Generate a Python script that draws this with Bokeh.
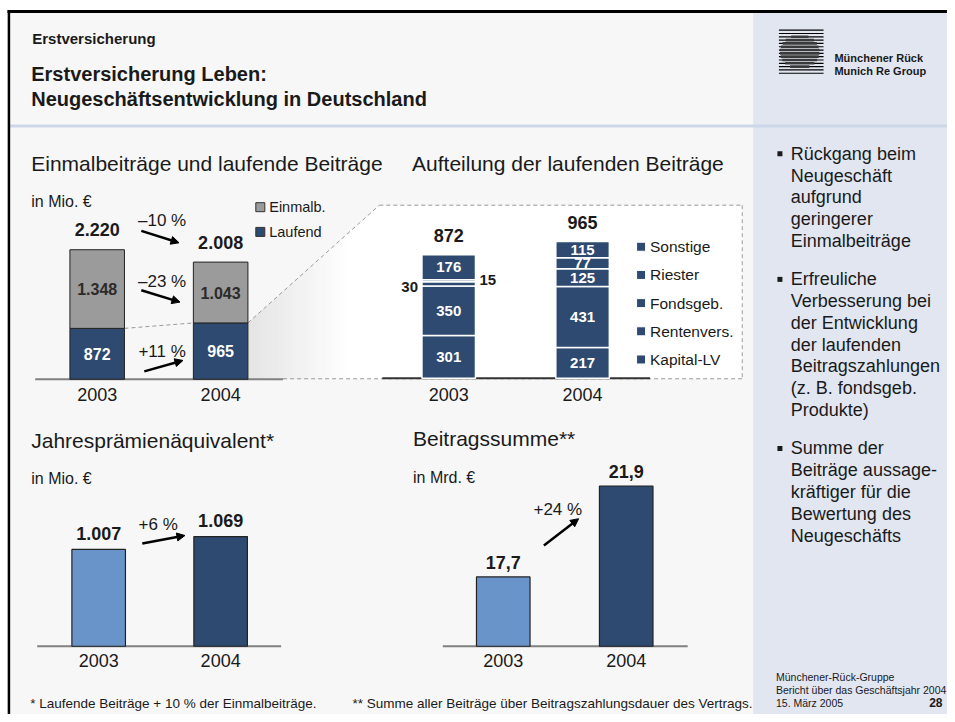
import numpy as np
from bokeh.plotting import figure
from bokeh.models import Range1d, Arrow, NormalHead
from bokeh.core.properties import value
from bokeh.embed import file_html
from bokeh.resources import INLINE

# ---------------- data ----------------
YEARS = ["2003", "2004"]
EINMAL = [1348, 1043]          # Einmalbeiträge, Mio. €
LAUFEND = [872, 965]           # laufende Beiträge, Mio. €
CHG_TOP = ["–10 %", "–23 %", "+11 %"]

SPLIT_CATS = ["Kapital-LV", "Rentenvers.", "Fondsgeb.", "Riester", "Sonstige"]
SPLIT_2003 = [301, 350, 30, 15, 176]
SPLIT_2004 = [217, 431, 125, 77, 115]

JPE = [1007, 1069]             # Jahresprämienäquivalent, Mio. €
JPE_CHG = "+6 %"
BSUM = [17.7, 21.9]            # Beitragssumme, Mrd. €
BSUM_CHG = "+24 %"

BULLETS = [
    ["Rückgang beim", "Neugeschäft", "aufgrund", "geringerer", "Einmalbeiträge"],
    ["Erfreuliche", "Verbesserung bei", "der Entwicklung", "der laufenden",
     "Beitragszahlungen", "(z. B. fondsgeb.", "Produkte)"],
    ["Summe der", "Beiträge aussage-", "kräftiger für die", "Bewertung des", "Neugeschäfts"],
]
FOOTER = ["Münchener-Rück-Gruppe", "Bericht über das Geschäftsjahr 2004", "15. März 2005"]

# ---------------- styles ----------------
FONT = "Liberation Sans"
NAVY = "#2e4a70"
LIGHT = "#6994c9"
GREY = "#9b9b9b"
INK = "#1a1a1a"
X0, X1, Y0, Y1 = 0, 955, 0, 722

p = figure(width=947, height=714, x_range=Range1d(X0, X1), y_range=Range1d(Y1, Y0),
           output_backend="svg", toolbar_location=None, min_border=0,
           x_axis_location=None, y_axis_location=None)
p.grid.visible = False
p.outline_line_color = None
p.background_fill_color = "white"
p.border_fill_color = "white"

XR, YR = {}, {}


def reg(name, xc0, dx, base, s, floor=0.0):
    XR[name] = Range1d(start=(X0 - xc0) / dx, end=(X1 - xc0) / dx)
    YR[name] = Range1d(start=floor + (base - Y1) / s, end=floor + (base - Y0) / s)


S1, S2, S3, S4 = 0.059, 0.1433, 0.2097, 21.9
F3, F4 = 540.0, 14.5
reg("c1", 97.5, 124.5, 383, S1)
reg("c2", 452, 135, 382, S2)
reg("c3", 99, 123, 653, S3, F3)
reg("c4", 507, 124, 653, S4, F4)
p.extra_x_ranges = XR
p.extra_y_ranges = YR


def T(x, y, text, size, bold=False, color=INK, align="left", rn="default", baseline="middle"):
    x = list(np.atleast_1d(x)); y = list(np.atleast_1d(y))
    text = [text] if isinstance(text, str) else list(text)
    p.text(x=x, y=y, text=text, text_font=value(FONT), text_font_size=f"{size}px",
           text_font_style="bold" if bold else "normal", text_color=color,
           text_align=align, text_baseline=baseline, x_range_name=rn, y_range_name=rn)


def fmt(v):
    return f"{v:,}".replace(",", ".")


def arrow(x0, y0, x1, y1):
    p.add_layout(Arrow(x_start=x0, y_start=y0, x_end=x1, y_end=y1, line_width=2.5, line_color="black",
                       end=NormalHead(size=8, fill_color="black", line_color="black")))


# ---------------- slide background ----------------
p.quad(left=9, right=759, top=11, bottom=722, fill_color="#f7f7f7", line_color=None)
p.quad(left=759, right=955, top=11, bottom=722, fill_color="#e1e6f1", line_color=None)
p.line([9, 955], [127, 127], line_color="#cdd7ea", line_width=3)
p.line([7, 955], [11, 11], line_color="black", line_width=3)
p.line([8.5, 8.5], [10, 722], line_color="black", line_width=2.5)

# header texts
T(32, 38, "Erstversicherung", 15, bold=True)
T(31, 74, "Erstversicherung Leben:", 20, bold=True)
T(31, 100, "Neugeschäftsentwicklung in Deutschland", 20, bold=True)

# logo
for i in range(14):
    yy = 30 + i * 3.35
    p.line([785, 830], [yy, yy], line_color="black", line_width=1.2)
    d = (yy - 52) / 17.0
    if abs(d) < 1:
        hw = 20 * np.sqrt(1 - d * d)
        p.line([806 - hw, 806 + hw], [yy, yy], line_color="#3a3a3a", line_width=2.6)
T(841, 58, "Münchener Rück", 11, bold=True)
T(841, 71, "Munich Re Group", 11, bold=True)

# ---------------- zoom wedge + box ----------------
hw1 = 27.5
yL = 383 - LAUFEND[1] * S1
xa, xb = 222 + hw1, 382
n = 40
xs, ys, cols = [], [], []
for k in range(n):
    u0, u1 = k / n, (k + 1) / n
    xl, xr = xa + (xb - xa) * u0, xa + (xb - xa) * u1 + 0.6
    tl, tr = yL + (207 - yL) * u0, yL + (207 - yL) * min(1, u1 + 0.6 / (xb - xa))
    g = int(229 + 26 * min(1.0, u0 / 0.75))
    xs.append([xl, xr, xr, xl]); ys.append([tl, tr, 383, 383])
    cols.append(f"#{g:02x}{g:02x}{g:02x}")
p.patches(xs, ys, fill_color=cols, line_color=None)
p.quad(left=382, right=748, top=207, bottom=382.5, fill_color="white", line_color=None)
DASH = dict(line_color="#9a9a9a", line_width=1, line_dash="4 3")
p.line([382, 748], [207, 207], **DASH)
p.line([748, 748], [207, 382.5], **DASH)
p.line([285, 748], [382.5, 382.5], **DASH)
p.line([xa, 382], [yL, 207], **DASH)
p.line([35, 285], [383, 383], line_color="#808080", line_width=2)

# ---------------- chart 1 ----------------
IDX = list(range(len(YEARS)))
TOT1 = [a + b for a, b in zip(EINMAL, LAUFEND)]
w1 = 55 / 124.5
p.line([IDX[0] + w1 / 2, IDX[1] - w1 / 2], LAUFEND, x_range_name="c1", y_range_name="c1", **DASH)
p.vbar(x=IDX, width=w1, bottom=0, top=LAUFEND, fill_color=NAVY, line_color="#222", line_width=1,
       x_range_name="c1", y_range_name="c1")
p.vbar(x=IDX, width=w1, bottom=LAUFEND, top=TOT1, fill_color=GREY, line_color="#222", line_width=1,
       x_range_name="c1", y_range_name="c1")
T(IDX, [t + 20 / S1 for t in TOT1], [fmt(t) for t in TOT1], 18, bold=True, align="center", rn="c1")
T(IDX, [l + e / 2 for l, e in zip(LAUFEND, EINMAL)], [fmt(e) for e in EINMAL], 16, bold=True,
  color="#2b2b2b", align="center", rn="c1")
T(IDX, [l / 2 for l in LAUFEND], [fmt(l) for l in LAUFEND], 16, bold=True, color="white",
  align="center", rn="c1")
T(IDX, [-15 / S1] * 2, YEARS, 18, align="center", rn="c1")
T(31, 165, "Einmalbeiträge und laufende Beiträge", 21)
T(31, 203, "in Mio. €", 16)
p.scatter([262, 262], [209, 234], marker="square", size=9, fill_color=[GREY, NAVY], line_color="#333")
T(271, 209, "Einmalb.", 14.5)
T(271, 234, "Laufend", 14.5)
T(163, 222, CHG_TOP[0], 17, align="center")
arrow(142, 233, 180, 245)
T(163, 284, CHG_TOP[1], 17, align="center")
arrow(142, 293, 181, 305)
T(163, 355, CHG_TOP[2], 17, align="center")
arrow(145, 375, 184, 364)

# ---------------- chart 2 ----------------
w2 = 54 / 135
p.line([385, 655], [382, 382], line_color="#333", line_width=2)
stacks = [SPLIT_2003, SPLIT_2004]
cum = [np.concatenate([[0], np.cumsum(s)]) for s in stacks]
for j in range(len(SPLIT_CATS)):
    p.vbar(x=IDX, width=w2, bottom=[c[j] for c in cum], top=[c[j + 1] for c in cum],
           fill_color=NAVY, line_color="white", line_width=1.5, x_range_name="c2", y_range_name="c2")
for i, s in enumerate(stacks):
    side = 0
    for j, v in enumerate(s):
        mid = (cum[i][j] + cum[i][j + 1]) / 2
        if v >= 50:
            T(i, mid, str(v), 15, bold=True, color="white", align="center", rn="c2")
        else:
            if side == 0:
                T(i - w2 / 2 - 4 / 135, mid - 3 / S2, str(v), 15, bold=True, align="right", rn="c2")
            else:
                T(i + w2 / 2 + 4 / 135, mid + 1 / S2, str(v), 15, bold=True, align="left", rn="c2")
            side += 1
TOT2 = [sum(s) for s in stacks]
T(IDX, [t + 19 / S2 for t in TOT2], [str(t) for t in TOT2], 18, bold=True, align="center", rn="c2")
T(IDX, [-16 / S2] * 2, YEARS, 18, align="center", rn="c2")
T(415, 165, "Aufteilung der laufenden Beiträge", 21)
for k, name in enumerate(reversed(SPLIT_CATS)):
    yy = 249 + 28.5 * k
    p.scatter([646], [yy], marker="square", size=9, fill_color=NAVY, line_color="white")
    T(655, yy, name, 15.5)

# ---------------- chart 3 ----------------
w3 = 54 / 123
p.line([37, 283], [653, 653], line_color="#808080", line_width=2)
p.vbar(x=IDX, width=w3, bottom=F3, top=JPE, fill_color=[LIGHT, NAVY], line_color="#222", line_width=1.2,
       x_range_name="c3", y_range_name="c3")
T(IDX, [v + 16 / S3 for v in JPE], [fmt(v) for v in JPE], 18, bold=True, align="center", rn="c3")
T(IDX, [F3 - 14 / S3] * 2, YEARS, 18, align="center", rn="c3")
T(31, 445, "Jahresprämienäquivalent*", 21)
T(31, 483, "in Mio. €", 16)
T(159, 530, JPE_CHG, 17, align="center")
arrow(143, 549, 186, 541)

# ---------------- chart 4 ----------------
w4 = 54 / 124
p.line([446, 693], [653, 653], line_color="#808080", line_width=2)
p.vbar(x=IDX, width=w4, bottom=F4, top=BSUM, fill_color=[LIGHT, NAVY], line_color="#222", line_width=1.2,
       x_range_name="c4", y_range_name="c4")
T(IDX, [v + 15 / S4 for v in BSUM], [f"{v:.1f}".replace(".", ",") for v in BSUM], 18, bold=True,
  align="center", rn="c4")
T(IDX, [F4 - 14 / S4] * 2, YEARS, 18, align="center", rn="c4")
T(416, 443, "Beitragssumme**", 21)
T(416, 482, "in Mrd. €", 16)
T(562, 515, BSUM_CHG, 17, align="center")
arrow(548, 551, 583, 524)

# ---------------- footnotes ----------------
T(30, 711, "* Laufende Beiträge + 10 % der Einmalbeiträge.", 13.5)
T(355, 711, "** Summe aller Beiträge über Beitragszahlungsdauer des Vertrags.", 13.5)

# ---------------- sidebar ----------------
starts = [155, 282, 453]
for y0, lines in zip(starts, BULLETS):
    p.scatter([786], [y0], marker="square", size=5, fill_color=INK, line_color=None)
    T([797] * len(lines), [y0 + 22 * k for k in range(len(lines))], lines, 18)
T([782] * 3, [684, 697, 710], FOOTER, 10.5)
T(950, 710, "28", 12, bold=True, align="right")

open("out.html", "w").write(file_html(p, INLINE))
